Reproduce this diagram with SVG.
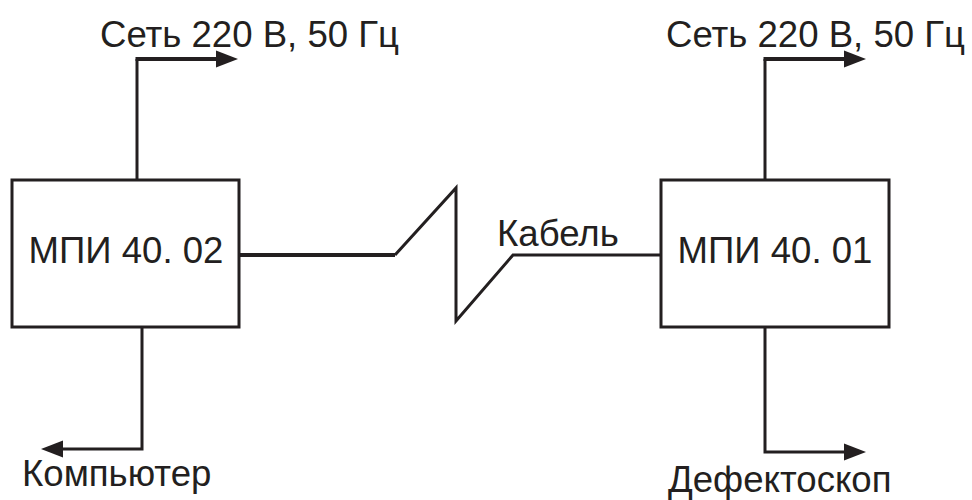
<svg xmlns="http://www.w3.org/2000/svg" width="972" height="500" viewBox="0 0 972 500">
<style>
.box{fill:#fff;stroke:#231f20;stroke-width:3}
.ln{fill:none;stroke:#231f20;stroke-width:3;stroke-linejoin:miter}
.thk{stroke-width:4}
.t{font-family:"Liberation Sans",Arial,sans-serif;font-size:36.6px;fill:#231f20}
.ah{fill:#231f20}
</style>
<rect width="972" height="500" fill="#fff"/>
<g id="connectors">
<path class="ln" d="M137,180 V59"/>
<path class="ln thk" d="M135.5,59 H220"/>
<polygon class="ah" points="238,59 216,50.5 216,67.5"/>
<path class="ln" d="M765,180 V59"/>
<path class="ln thk" d="M763.5,59 H848"/>
<polygon class="ah" points="866,59 844,50.5 844,67.5"/>
<path class="ln" d="M142,327 V449 H60"/>
<polygon class="ah" points="41,449 63,440.5 63,457.5"/>
<path class="ln" d="M765,327 V452 H848"/>
<polygon class="ah" points="866,452 844,443.5 844,460.5"/>
<path class="ln thk" d="M239,255 H395"/>
<path class="ln" d="M395,255 L456,188 V321 L513,255 H661"/>
</g>
<g id="node-mpi4002">
<rect class="box" x="12" y="180" width="227" height="147"/>
<text class="t" x="126" y="263" text-anchor="middle">МПИ 40. 02</text>
</g>
<g id="node-mpi4001">
<rect class="box" x="661" y="180" width="228" height="147"/>
<text class="t" x="775" y="263" text-anchor="middle">МПИ 40. 01</text>
</g>
<g id="labels">
<text class="t" x="100" y="47">Сеть 220 В, 50 Гц</text>
<text class="t" x="666" y="47">Сеть 220 В, 50 Гц</text>
<text class="t" x="497" y="246">Кабель</text>
<text class="t" x="22" y="486">Компьютер</text>
<text class="t" x="668" y="492">Дефектоскоп</text>
</g>
</svg>
